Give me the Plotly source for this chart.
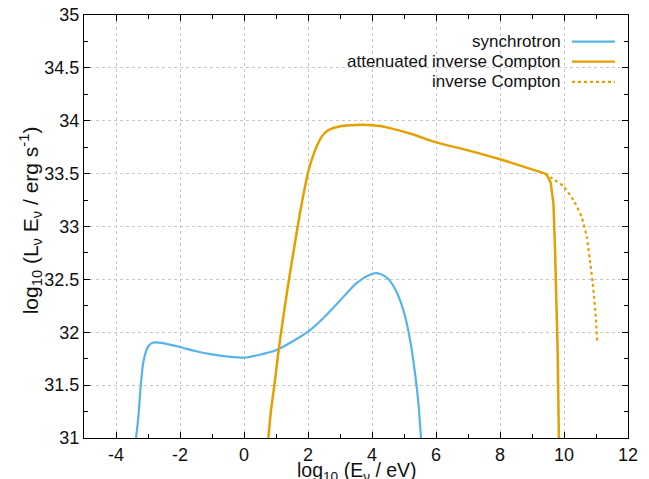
import plotly.graph_objects as go

# synchrotron
sync_x = [-3.375, -3.30, -3.23, -3.15, -3.02, -2.90, -2.78, -2.5, -2.0, -1.5, -1.0, -0.5, 0.0, 0.45,
          1.0, 1.5, 2.0, 2.5, 3.0, 3.5, 3.9, 4.15, 4.4, 4.6, 4.8, 5.0, 5.2, 5.35, 5.45, 5.53]
sync_y = [31.0, 31.20, 31.485, 31.71, 31.85, 31.895, 31.905, 31.895, 31.86, 31.82, 31.79, 31.77, 31.76, 31.785,
          31.83, 31.91, 32.005, 32.14, 32.30, 32.46, 32.54, 32.56, 32.53, 32.47, 32.36, 32.19, 31.91, 31.60, 31.33, 31.0]

# attenuated inverse Compton: rise and plateau
aic_x = [0.76, 0.84, 0.97, 1.07, 1.23, 1.38, 1.54, 1.70, 1.85, 2.01, 2.22, 2.43, 2.63, 3.05, 3.5, 3.88,
         4.25, 4.56, 5.29, 5.95, 7.0, 7.95, 9.41]
aic_y = [31.0, 31.25, 31.55, 31.80, 32.15, 32.45, 32.75, 33.04, 33.29, 33.52, 33.72, 33.85, 33.91, 33.95, 33.96, 33.96,
         33.95, 33.93, 33.87, 33.80, 33.72, 33.64, 33.50]
# attenuated inverse Compton: cut-off
aic_cut_x = [9.41, 9.46, 9.58, 9.67, 9.72, 9.77, 9.80, 9.84]
aic_cut_y = [33.50, 33.49, 33.42, 33.22, 32.78, 32.30, 31.83, 31.0]

# inverse Compton (unattenuated tail)
ic_x = [9.41, 9.61, 9.98, 10.29, 10.55, 10.71, 10.81, 10.92, 10.99, 11.04]
ic_y = [33.50, 33.46, 33.38, 33.25, 33.09, 32.90, 32.68, 32.40, 32.15, 31.91]

x_ticks = [-4, -2, 0, 2, 4, 6, 8, 10, 12]
x_tick_text = ["-4", "-2", "0", "2", "4", "6", "8", "10", "12"]
y_ticks = [31, 31.5, 32, 32.5, 33, 33.5, 34, 34.5, 35]
y_tick_text = ["31", "31.5", "32", "32.5", "33", "33.5", "34", "34.5", "35"]

legend_names = ["synchrotron", "attenuated inverse Compton", "inverse Compton"]
x_title = "log<sub>10</sub> (E<sub>ν</sub> / eV)"
y_title = "log<sub>10</sub> (L<sub>ν</sub> E<sub>ν</sub> / erg s<sup>-1</sup>)"

BLUE = "#56B4E9"
ORANGE = "#E69F00"
FONT = "Liberation Sans"
TXT = "#111111"

fig = go.Figure()
fig.add_trace(go.Scatter(x=sync_x, y=sync_y, mode="lines",
                         line=dict(color=BLUE, width=2.2, shape="spline", smoothing=0.7),
                         name=legend_names[0], showlegend=False))
fig.add_trace(go.Scatter(x=ic_x, y=ic_y, mode="lines",
                         line=dict(color=ORANGE, width=2.2, dash="dot", shape="spline", smoothing=0.6),
                         name=legend_names[2], showlegend=False))
fig.add_trace(go.Scatter(x=aic_x, y=aic_y, mode="lines",
                         line=dict(color=ORANGE, width=2.5, shape="spline", smoothing=0.7),
                         name=legend_names[1], showlegend=False))
fig.add_trace(go.Scatter(x=aic_cut_x, y=aic_cut_y, mode="lines",
                         line=dict(color=ORANGE, width=2.5),
                         name=legend_names[1], showlegend=False))

# manual legend (text right-aligned, sample line to its right)
leg_styles = [(BLUE, "solid"), (ORANGE, "solid"), (ORANGE, "dot")]
row_y = [0.937, 0.890, 0.842]
for name, (col, dash), yy in zip(legend_names, leg_styles, row_y):
    fig.add_annotation(x=0.880, y=yy, xref="paper", yref="paper", text=name, showarrow=False,
                       xanchor="right", yanchor="middle", font=dict(size=17, color=TXT, family=FONT))
    fig.add_shape(type="line", xref="paper", yref="paper", x0=0.897, x1=0.976, y0=yy, y1=yy,
                  line=dict(color=col, width=2.2, dash=dash))

# axis titles
fig.add_annotation(x=0.502, y=-0.080, xref="paper", yref="paper", text=x_title, showarrow=False,
                   xanchor="center", yanchor="middle", font=dict(size=19.5, color=TXT, family=FONT))
fig.add_annotation(x=-0.099, y=0.515, xref="paper", yref="paper", text=y_title, showarrow=False,
                   textangle=-90, xanchor="center", yanchor="middle",
                   font=dict(size=21, color=TXT, family=FONT))

axis_common = dict(
    showline=True, linecolor="black", linewidth=1, mirror="ticks",
    ticks="inside", ticklen=6, tickcolor="black",
    showgrid=True, gridcolor="#c8c8c8", griddash="dot", gridwidth=1,
    zeroline=False, tickfont=dict(size=18, color=TXT, family=FONT), automargin=False,
    ticklabeloverflow="allow",
)

fig.update_xaxes(range=[-5, 12], tickvals=x_ticks, ticktext=x_tick_text,
                 minor=dict(dtick=1, tick0=0, ticks="inside", ticklen=4, tickcolor="black", showgrid=False),
                 **axis_common)
fig.update_yaxes(range=[31, 35], tickvals=y_ticks, ticktext=y_tick_text,
                 minor=dict(dtick=0.25, tick0=31, ticks="inside", ticklen=4, tickcolor="black", showgrid=False),
                 **axis_common)

fig.update_layout(
    width=649, height=479,
    margin=dict(l=84, r=21, t=15, b=41),
    paper_bgcolor="white", plot_bgcolor="white",
    font=dict(family=FONT),
)

# remove the page's default body margin so the figure sits at the window's top-left corner
fig.write_html("out.html", config={"displayModeBar": False},
               post_script="document.body.style.margin='0';document.body.style.overflow='hidden';")
